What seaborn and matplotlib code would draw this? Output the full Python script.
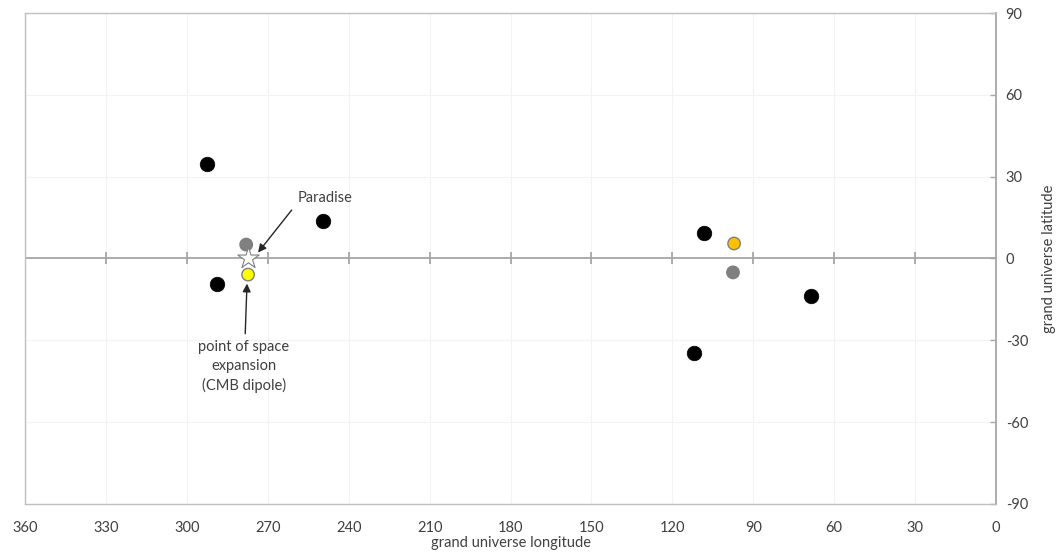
"""
Grand universe coordinates scatter (longitude vs latitude)
"""

import numpy as np
import pandas as pd
import matplotlib
matplotlib.use('Agg')
import matplotlib.pyplot as plt
import seaborn as sns

# Data
black_lon = [292.5, 288.8, 249.5, 108.3, 112.0, 68.6]
black_lat = [34.5, -9.5, 13.6, 9.2, -34.8, -13.9]
gray_lon = [278.0, 97.5]
gray_lat = [5.1, -5.1]
yellow_lon = [277.3]
yellow_lat = [-5.9]
orange_lon = [97.1]
orange_lat = [5.5]
paradise_lon = [277.3]
paradise_lat = [0.0]

x_ticks = list(range(360, -1, -30))
y_ticks = list(range(-90, 91, 30))

GRID = '#f3f3f3'
FRAME = '#bfbfbf'
AXIS = '#a6a6a6'
TEXT = '#404040'


def main():
    sns.set_style('white')
    plt.rcParams['font.family'] = ['Lato', 'DejaVu Sans']
    plt.rcParams['axes.unicode_minus'] = False

    fig = plt.figure(figsize=(10.61, 5.54), dpi=100)
    ax = fig.add_axes([0.0236, 0.0903, 0.9151, 0.8862])

    dots = pd.DataFrame({
        'lon': black_lon + gray_lon + yellow_lon + orange_lon,
        'lat': black_lat + gray_lat + yellow_lat + orange_lat,
        'kind': ['black'] * len(black_lon) + ['gray'] * len(gray_lon)
                + ['yellow'] * len(yellow_lon) + ['orange'] * len(orange_lon),
    })

    # Big black dots
    sns.scatterplot(data=dots[dots['kind'] == 'black'], x='lon', y='lat',
                    color='black', s=110, edgecolor='black', linewidth=0.5,
                    legend=False, ax=ax, zorder=4)
    # Smaller coloured dots with grey edge
    small = dots[dots['kind'] != 'black']
    sns.scatterplot(data=small, x='lon', y='lat', hue='kind',
                    palette={'gray': '#808080', 'yellow': '#ffff00', 'orange': '#ffc000'},
                    s=80, edgecolor='#7f7f7f', linewidth=1.0,
                    legend=False, ax=ax, zorder=4)
    # Paradise star
    sns.scatterplot(x=paradise_lon, y=paradise_lat, marker='*', s=260,
                    color='white', edgecolor='#7f7f7f', linewidth=0.8,
                    legend=False, ax=ax, zorder=5)

    ax.set_xlim(360, 0)
    ax.set_ylim(-90, 90)
    ax.set_xticks(x_ticks)
    ax.set_yticks(y_ticks)
    ax.grid(True, color=GRID, linewidth=0.8)
    ax.set_axisbelow(True)

    # zero line with tick marks crossing it
    ax.axhline(0, color=AXIS, linewidth=1.3, zorder=2)
    ax.vlines(x_ticks[1:-1], -2.2, 2.2, color=AXIS, linewidth=1.3, zorder=2)

    for sp in ax.spines.values():
        sp.set_color(FRAME)
        sp.set_linewidth(1.0)
    ax.spines['right'].set_color(AXIS)
    ax.spines['right'].set_linewidth(1.3)

    ax.yaxis.tick_right()
    ax.yaxis.set_label_position('right')
    ax.tick_params(axis='x', length=0, pad=12, labelsize=10.5, labelcolor=TEXT)
    ax.tick_params(axis='y', direction='in', length=4, width=1, color=AXIS,
                   pad=7, labelsize=10.5, labelcolor=TEXT)
    for lbl in ax.get_yticklabels():
        lbl.set_horizontalalignment('left')

    ax.set_xlabel('grand universe longitude', fontsize=10.5, color=TEXT, labelpad=1)
    ax.set_ylabel('grand universe latitude', fontsize=10.5, color=TEXT, labelpad=10)

    # annotations
    ax.annotate('Paradise', xy=(273.6, 2.2), xytext=(248.8, 22),
                ha='center', va='center', fontsize=10.5, color=TEXT,
                arrowprops=dict(arrowstyle='-|>', color='#262626', lw=1.0,
                                relpos=(0.0, 0.2),
                                shrinkA=3, shrinkB=0, mutation_scale=12))
    ax.annotate('point of space\nexpansion\n(CMB dipole)', xy=(277.7, -9.2),
                xytext=(278.8, -39.6), ha='center', va='center',
                fontsize=10.5, color=TEXT, linespacing=1.45,
                arrowprops=dict(arrowstyle='-|>', color='#262626', lw=1.0,
                                shrinkA=2, shrinkB=0, mutation_scale=12))

    fig.savefig('out.png', dpi=100)
    plt.close(fig)


if __name__ == '__main__':
    main()
